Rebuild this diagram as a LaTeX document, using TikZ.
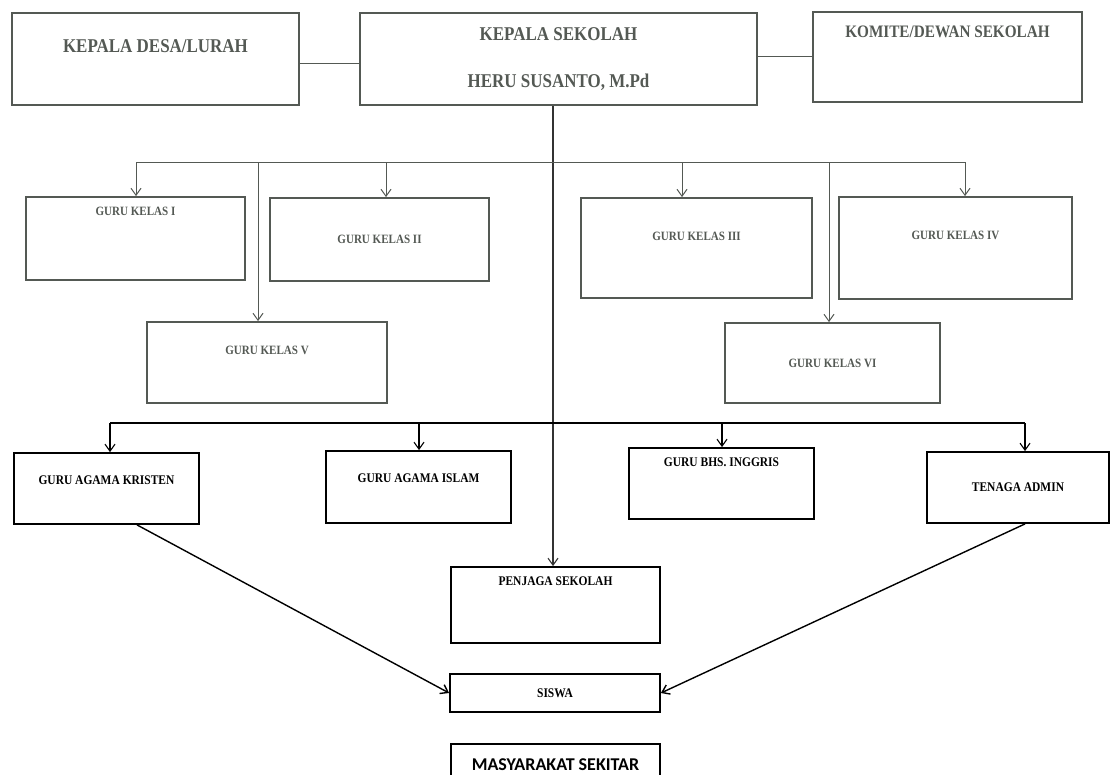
\documentclass[tikz,border=0pt]{standalone}
\usepackage{fontspec}
\usetikzlibrary{arrows.meta}
\newfontfamily\orgfont[FakeStretch=0.87]{Liberation Serif}
\newfontfamily\calfont{Carlito}
\definecolor{topgray}{HTML}{545954}

\begin{document}
\begin{tikzpicture}[x=1bp, y=-1bp,
    orgbox/.style={draw=topgray, text=topgray, line width=1.8bp, inner sep=0pt},
    lowbox/.style={draw=black, text=black, line width=1.8bp, inner sep=0pt},
    big/.style={font=\orgfont\bfseries\fontsize{19.5bp}{22bp}\selectfont},
    komfont/.style={font=\orgfont\bfseries\fontsize{17.5bp}{20bp}\selectfont},
    small/.style={font=\orgfont\bfseries\fontsize{12.7bp}{14bp}\selectfont},
    mid/.style={font=\orgfont\bfseries\fontsize{13.2bp}{15bp}\selectfont},
    intop/.style={inner sep=0pt, text depth=0pt, label distance=-#1},
    link/.style={draw=topgray, line width=1bp},
    arr/.style={link, -{Straight Barb[length=7bp,width=10bp]}},
    lowarr/.style={draw=black, line width=1.1bp, -{Straight Barb[length=7bp,width=10bp]}}]
    \useasboundingbox (0,0) rectangle (1111,775);
    \clip (0,0) rectangle (1111,775);

    % Top row: village head, principal, school committee
    \node[orgbox, minimum width=287bp, minimum height=92bp,
          label={[intop=41bp, big, text=topgray]north:KEPALA DESA/LURAH}] (desa) at (155.5,59) {};
    \node[orgbox, big, align=center, minimum width=397bp, minimum height=92bp] (sekolah) at (558.5,59)
          {KEPALA SEKOLAH\\[25bp]HERU SUSANTO, M.Pd};
    \node[orgbox, minimum width=269bp, minimum height=90bp,
          label={[intop=27bp, komfont, text=topgray]north:KOMITE/DEWAN SEKOLAH}] (komite) at (947.5,57) {};
    \draw[link] ([yshift=-5bp]desa.east) -- ([yshift=-5bp]sekolah.west);
    \draw[link] (sekolah.east |- komite.west) -- (komite.west);

    % Class teachers
    \node[orgbox, minimum width=219bp, minimum height=83bp,
          label={[intop=20bp, small, text=topgray]north:GURU KELAS I}] (kelas1) at (135.5,238.5) {};
    \node[orgbox, small, minimum width=219bp, minimum height=83bp] (kelas2) at (379.5,239.5) {GURU KELAS II};
    \node[orgbox, minimum width=231bp, minimum height=100bp,
          label={[intop=44bp, small, text=topgray]north:GURU KELAS III}] (kelas3) at (696.5,248) {};
    \node[orgbox, minimum width=233bp, minimum height=102bp,
          label={[intop=44bp, small, text=topgray]north:GURU KELAS IV}] (kelas4) at (955.5,248) {};
    \node[orgbox, minimum width=240bp, minimum height=81bp,
          label={[intop=34bp, small, text=topgray]north:GURU KELAS V}] (kelas5) at (267,362.5) {};
    \node[orgbox, small, minimum width=215bp, minimum height=80bp] (kelas6) at (832.5,363) {GURU KELAS VI};

    % Subject teachers and admin
    \node[lowbox, minimum width=185bp, minimum height=71bp,
          label={[intop=33bp, mid]north:GURU AGAMA KRISTEN}] (kristen) at (106.5,488.5) {};
    \node[lowbox, minimum width=185bp, minimum height=72bp,
          label={[intop=33bp, mid]north:GURU AGAMA ISLAM}] (islam) at (418.5,487) {};
    \node[lowbox, minimum width=185bp, minimum height=71bp,
          label={[intop=20bp, mid]north:GURU BHS. INGGRIS}] (inggris) at (721.5,483.5) {};
    \node[lowbox, mid, minimum width=182bp, minimum height=71bp] (admin) at (1018,487.5) {TENAGA ADMIN};

    % Caretaker, pupils, community
    \node[lowbox, minimum width=209bp, minimum height=76bp,
          label={[intop=20bp, mid]north:PENJAGA SEKOLAH}] (penjaga) at (555.5,605) {};
    \node[lowbox, mid, minimum width=210bp, minimum height=38bp] (siswa) at (555,693) {SISWA};
    \node[lowbox, minimum width=209bp, minimum height=60bp,
          label={[intop=28bp, font=\calfont\bfseries\fontsize{18bp}{20bp}\selectfont]north:MASYARAKAT SEKITAR}] (masyarakat) at (555.5,774) {};

    % Trunk from the principal down to the caretaker
    \coordinate (trunk) at ([xshift=-5.5bp]sekolah.south);
    \draw[lowarr, draw=black!80] (trunk) -- (trunk |- penjaga.north);

    % First branch line
    \foreach \x/\b in {136/kelas1, 386/kelas2, 682/kelas3, 965/kelas4, 258/kelas5, 829/kelas6} {
        \coordinate (top-\b) at (\x,162);
        \draw[arr] (top-\b) -- (top-\b |- \b.north);
    }
    \draw[link] (top-kelas1) -- (top-kelas4);

    % Second branch line
    \foreach \x/\b in {110/kristen, 419/islam, 722/inggris, 1025/admin} {
        \coordinate (top-\b) at (\x,423);
        \draw[lowarr] (top-\b) -- (top-\b |- \b.north);
    }
    \draw[draw=black, line width=1.1bp] (top-kristen) -- (top-admin);

    % Into the pupils
    \draw[lowarr, line width=1.4bp] ([xshift=30.5bp]kristen.south) -- (siswa.west);
    \draw[lowarr, line width=1.4bp] ([xshift=7bp]admin.south) -- (siswa.east);
\end{tikzpicture}
\end{document}
